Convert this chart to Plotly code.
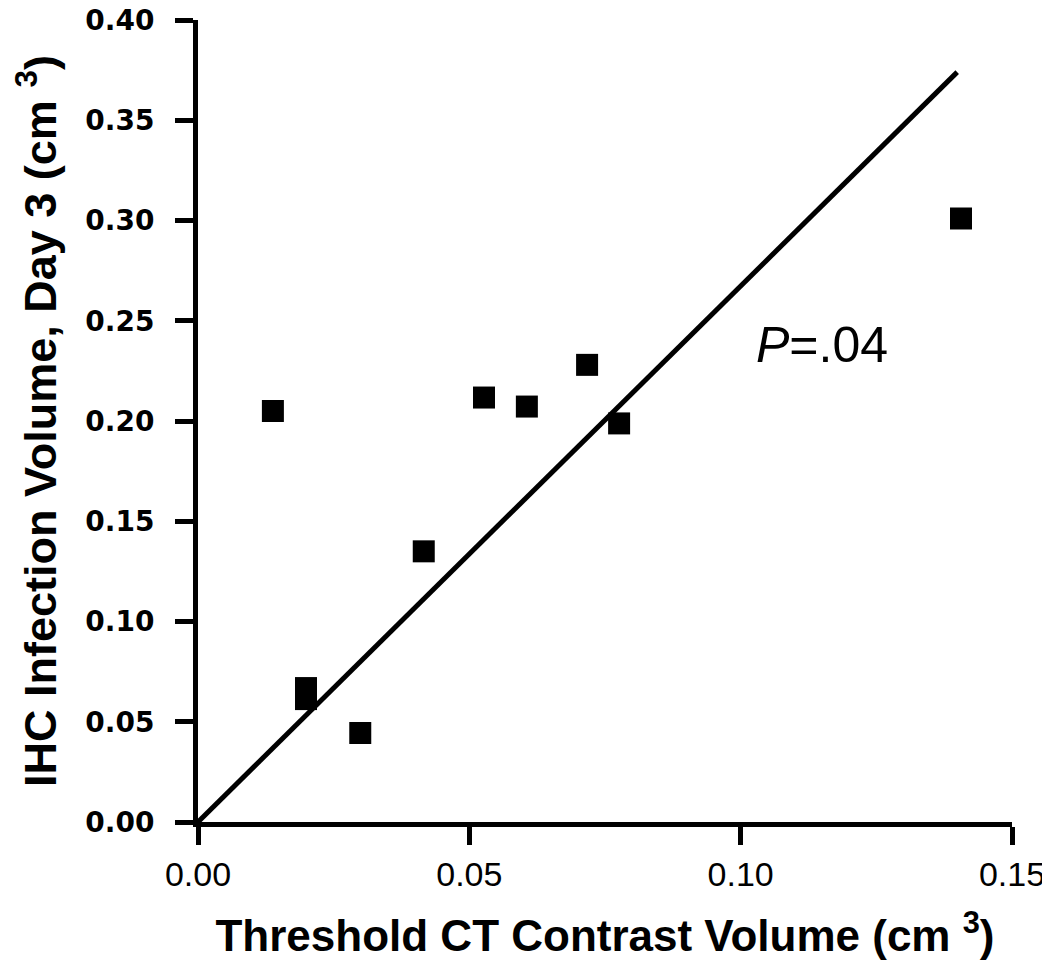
import plotly.graph_objects as go

# Data
ct_volume = [0.0138, 0.0199, 0.0199, 0.0299, 0.0416, 0.0527, 0.0606, 0.0717, 0.0776, 0.1406]
ihc_volume = [0.205, 0.0668, 0.0613, 0.0444, 0.135, 0.2117, 0.2072, 0.228, 0.1988, 0.301]
fit_x = [0.0, 0.1399]
fit_y = [0.0, 0.374]
x_ticks = [0.00, 0.05, 0.10, 0.15]
y_ticks = [0.00, 0.05, 0.10, 0.15, 0.20, 0.25, 0.30, 0.35, 0.40]
p_label = "<i>P</i>=.04"
p_pos = (0.115, 0.238)

fig = go.Figure()
fig.add_trace(go.Scatter(x=fit_x, y=fit_y, mode="lines",
                         line=dict(color="black", width=5), showlegend=False,
                         cliponaxis=False))
fig.add_trace(go.Scatter(x=ct_volume, y=ihc_volume, mode="markers",
                         marker=dict(symbol="square", size=22, color="black",
                                     line=dict(width=0)),
                         showlegend=False, cliponaxis=False))

fig.add_annotation(x=p_pos[0], y=p_pos[1], text=p_label, showarrow=False,
                   font=dict(family="Liberation Sans, Arial", size=50, color="black"),
                   xanchor="center", yanchor="middle")

fig.update_layout(
    width=1050, height=970,
    margin=dict(l=190, r=46, t=12, b=156),
    plot_bgcolor="white", paper_bgcolor="white",
    xaxis=dict(range=[0, 0.15], tickvals=x_ticks, ticktext=[f"{v:.2f}" for v in x_ticks],
               automargin=False, ticklabeloverflow="allow",
               showgrid=False, zeroline=False, showline=True, linecolor="black",
               linewidth=5, ticks="outside", ticklen=18, tickwidth=5, tickcolor="black",
               tickfont=dict(family="Liberation Sans, Arial", size=34, color="black"),
               title=dict(text="<b>Threshold CT Contrast Volume (cm <sup>3</sup>)</b>",
                          font=dict(family="Liberation Sans, Arial", size=44, color="black"),
                          standoff=30)),
    yaxis=dict(range=[0, 0.4], tickvals=y_ticks, ticktext=[f"<b>{v:.2f}</b>" for v in y_ticks],
               automargin=False, ticklabelstandoff=15, ticklabeloverflow="allow",
               showgrid=False, zeroline=False, showline=True, linecolor="black",
               linewidth=5, ticks="outside", ticklen=18, tickwidth=5, tickcolor="black",
               tickfont=dict(family="DejaVu Sans", size=28, color="black"),
               title=dict(text="<b>IHC Infection Volume, Day 3 (cm <sup>3</sup>)</b>",
                          font=dict(family="Liberation Sans, Arial", size=45, color="black"),
                          standoff=34)),
)

fig.write_html("out.html")
